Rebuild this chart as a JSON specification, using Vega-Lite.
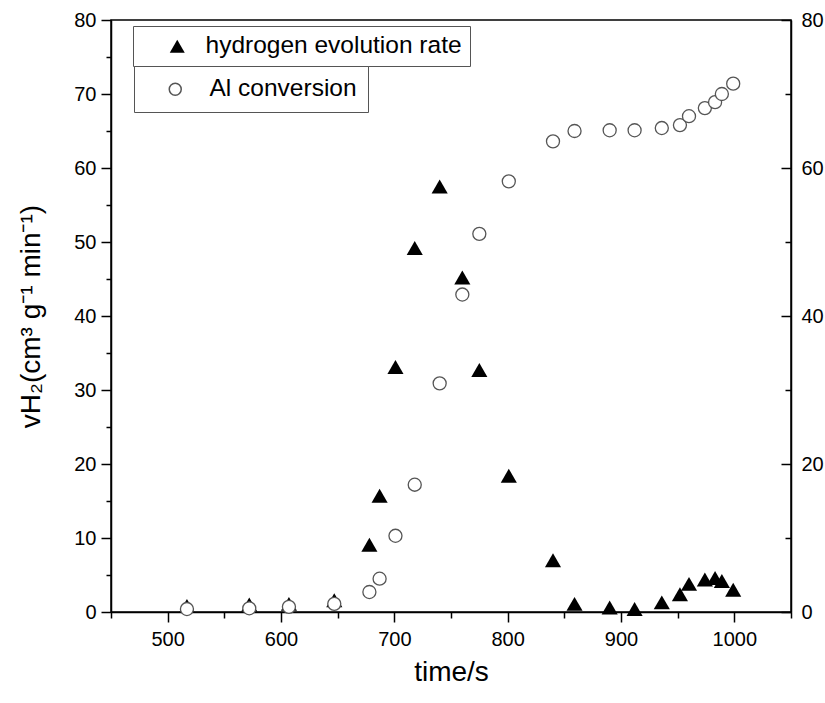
{
  "$schema": "https://vega.github.io/schema/vega-lite/v6.json",
  "width": 680,
  "height": 592,
  "autosize": {"type": "none"},
  "padding": {"left": 111, "top": 20, "right": 34, "bottom": 91},
  "background": "white",
  "config": {
    "view": {"stroke": "black", "strokeWidth": 1.5},
    "font": "Liberation Sans",
    "axis": {
      "grid": false,
      "domainColor": "black",
      "domainWidth": 1.5,
      "tickColor": "black",
      "tickWidth": 1.5,
      "labelColor": "black",
      "labelFont": "Liberation Sans",
      "labelFontSize": 20,
      "titleColor": "black",
      "titleFont": "Liberation Sans",
      "titleFontWeight": "normal"
    }
  },
  "data": {
    "values": [
      {"time": 517, "rate": 0.8, "conv": 0.4},
      {"time": 572, "rate": 1.0, "conv": 0.5},
      {"time": 607, "rate": 1.1, "conv": 0.7},
      {"time": 647, "rate": 1.6, "conv": 1.1},
      {"time": 678, "rate": 9.1, "conv": 2.7},
      {"time": 687, "rate": 15.7, "conv": 4.5},
      {"time": 701, "rate": 33.1, "conv": 10.3},
      {"time": 718, "rate": 49.2, "conv": 17.2},
      {"time": 740, "rate": 57.5, "conv": 30.9},
      {"time": 760, "rate": 45.2, "conv": 42.9},
      {"time": 775, "rate": 32.7, "conv": 51.1},
      {"time": 801, "rate": 18.4, "conv": 58.2},
      {"time": 840, "rate": 7.0, "conv": 63.6},
      {"time": 859, "rate": 1.1, "conv": 65.0},
      {"time": 890, "rate": 0.6, "conv": 65.1},
      {"time": 912, "rate": 0.4, "conv": 65.1},
      {"time": 936, "rate": 1.3, "conv": 65.4},
      {"time": 952, "rate": 2.4, "conv": 65.8},
      {"time": 960, "rate": 3.8, "conv": 67.0},
      {"time": 974, "rate": 4.4, "conv": 68.1},
      {"time": 983, "rate": 4.6, "conv": 68.9},
      {"time": 989, "rate": 4.2, "conv": 70.0},
      {"time": 999, "rate": 3.0, "conv": 71.4}
    ]
  },
  "layer": [
    {
      "mark": {"type": "point", "shape": "triangle-up", "filled": true, "color": "black", "size": 260, "opacity": 1},
      "encoding": {
        "x": {
          "field": "time",
          "type": "quantitative",
          "scale": {"domain": [450, 1050], "nice": false, "zero": false},
          "axis": {
            "title": "time/s",
            "titleFontSize": 28,
            "titlePadding": 9,
            "values": [450, 500, 550, 600, 650, 700, 750, 800, 850, 900, 950, 1000, 1050],
            "format": "d",
            "labelExpr": "datum.value % 100 === 0 ? datum.label : ''",
            "tickSize": {"condition": {"test": "datum.value % 100 === 0", "value": 10}, "value": 6},
            "labelPadding": 7
          }
        },
        "y": {
          "field": "rate",
          "type": "quantitative",
          "scale": {"domain": [0, 80], "nice": false},
          "axis": {
            "orient": "left",
            "title": "vH₂(cm³ g⁻¹ min⁻¹)",
            "titleFontSize": 28,
            "titlePadding": 28,
            "values": [0, 5, 10, 15, 20, 25, 30, 35, 40, 45, 50, 55, 60, 65, 70, 75, 80],
            "format": "d",
            "labelExpr": "datum.value % 10 === 0 ? datum.label : ''",
            "tickSize": {"condition": {"test": "datum.value % 10 === 0", "value": 10}, "value": 5},
            "labelPadding": 5
          }
        },
        "shape": {
          "datum": "hydrogen evolution rate",
          "type": "nominal",
          "scale": {"range": ["triangle-up"]},
          "legend": {
            "orient": "none",
            "legendX": 22,
            "legendY": 6,
            "title": null,
            "padding": 8,
            "strokeColor": "#555",
            "fillColor": "white",
            "labelFont": "Liberation Sans",
            "labelFontSize": 24.5,
            "labelColor": "black",
            "labelLimit": 0,
            "symbolType": "triangle-up",
            "symbolSize": 225,
            "symbolFillColor": "black",
            "symbolStrokeColor": "black",
            "symbolStrokeWidth": 0,
            "symbolOffset": 24,
            "labelOffset": 16
          }
        }
      }
    },
    {
      "mark": {"type": "point", "shape": "circle", "filled": true, "fill": "white", "stroke": "#555", "strokeWidth": 1.3, "size": 170, "opacity": 1},
      "encoding": {
        "x": {"field": "time", "type": "quantitative"},
        "y": {
          "field": "conv",
          "type": "quantitative",
          "scale": {"domain": [0, 80], "nice": false},
          "axis": {
            "orient": "right",
            "title": null,
            "values": [0, 10, 20, 30, 40, 50, 60, 70, 80],
            "format": "d",
            "labelExpr": "datum.value % 20 === 0 ? datum.label : ''",
            "tickSize": {"condition": {"test": "datum.value % 20 === 0", "value": -10}, "value": -6},
            "labelPadding": 20
          }
        },
        "shape": {
          "datum": "Al conversion",
          "type": "nominal",
          "scale": {"range": ["circle"]},
          "legend": {
            "orient": "none",
            "legendX": 23,
            "legendY": 46,
            "title": null,
            "padding": 11,
            "strokeColor": "#555",
            "fillColor": "white",
            "labelFont": "Liberation Sans",
            "labelFontSize": 24.5,
            "labelColor": "black",
            "labelLimit": 0,
            "symbolType": "circle",
            "symbolSize": 144,
            "symbolOffset": 18,
            "labelOffset": 22,
            "encode": {
              "symbols": {
                "update": {
                  "fill": {"value": "white"},
                  "stroke": {"value": "#555"},
                  "strokeWidth": {"value": 1.3},
                  "opacity": {"value": 1}
                }
              }
            }
          }
        }
      }
    }
  ],
  "resolve": {"scale": {"y": "independent", "shape": "independent"}, "legend": {"shape": "independent"}}
}
